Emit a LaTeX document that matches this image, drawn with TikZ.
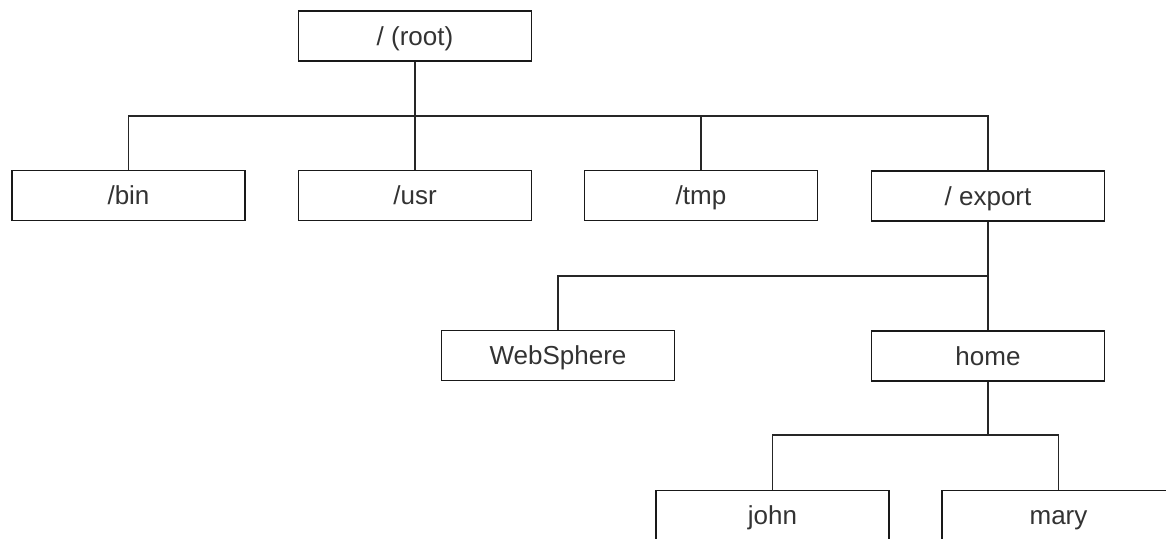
\documentclass[tikz,border=0pt]{standalone}
\usepackage{fontspec}
\setmainfont{Liberation Sans}
\begin{document}
\begin{tikzpicture}[x=0.5pt,y=-0.5pt,
  dirbox/.style={draw=black!90,line width=0.9pt,minimum width=116.5pt,minimum height=25pt,inner sep=0pt,
    text height=11pt,text depth=2pt,text=black!80,font=\fontsize{13}{15}\selectfont},
  tree/.style={draw=black!85,line width=0.9pt}]
\def\wide{1166}
\def\high{538}
\useasboundingbox (0,0) rectangle (\wide,\high);
\clip (0,0) rectangle (\wide,\high);
\fill[white] (0,0) rectangle (\wide,\high);
% first level
\node[dirbox] (root) at (415,36) {/ (root)};
\node[dirbox] (bin) at (128.5,195.5) {/bin};
\node[dirbox] (usr) at (415,195.5) {/usr};
\node[dirbox] (tmp) at (701,195.5) {/tmp};
\node[dirbox] (export) at (988,196) {/ export};
\coordinate (rootbus) at (415,116);
\draw[tree] (root.south) -- (rootbus);
\draw[tree] (bin.north) |- (rootbus);
\draw[tree] (usr.north) -- (rootbus);
\draw[tree] (tmp.north) |- (rootbus);
\draw[tree] (export.north) |- (rootbus);
% under /export
\node[dirbox] (websphere) at (558,355.5) {WebSphere};
\node[dirbox] (home) at (988,356) {home};
\coordinate (exportbus) at (988,276);
\draw[tree] (export.south) -- (home.north);
\draw[tree] (websphere.north) |- (exportbus);
% under home
\node[dirbox] (john) at (772.5,515.5) {john};
\node[dirbox] (mary) at (1058.5,515.5) {mary};
\coordinate (homebus) at (988,435);
\draw[tree] (home.south) -- (homebus);
\draw[tree] (john.north) |- (homebus);
\draw[tree] (mary.north) |- (homebus);
\end{tikzpicture}
\end{document}
